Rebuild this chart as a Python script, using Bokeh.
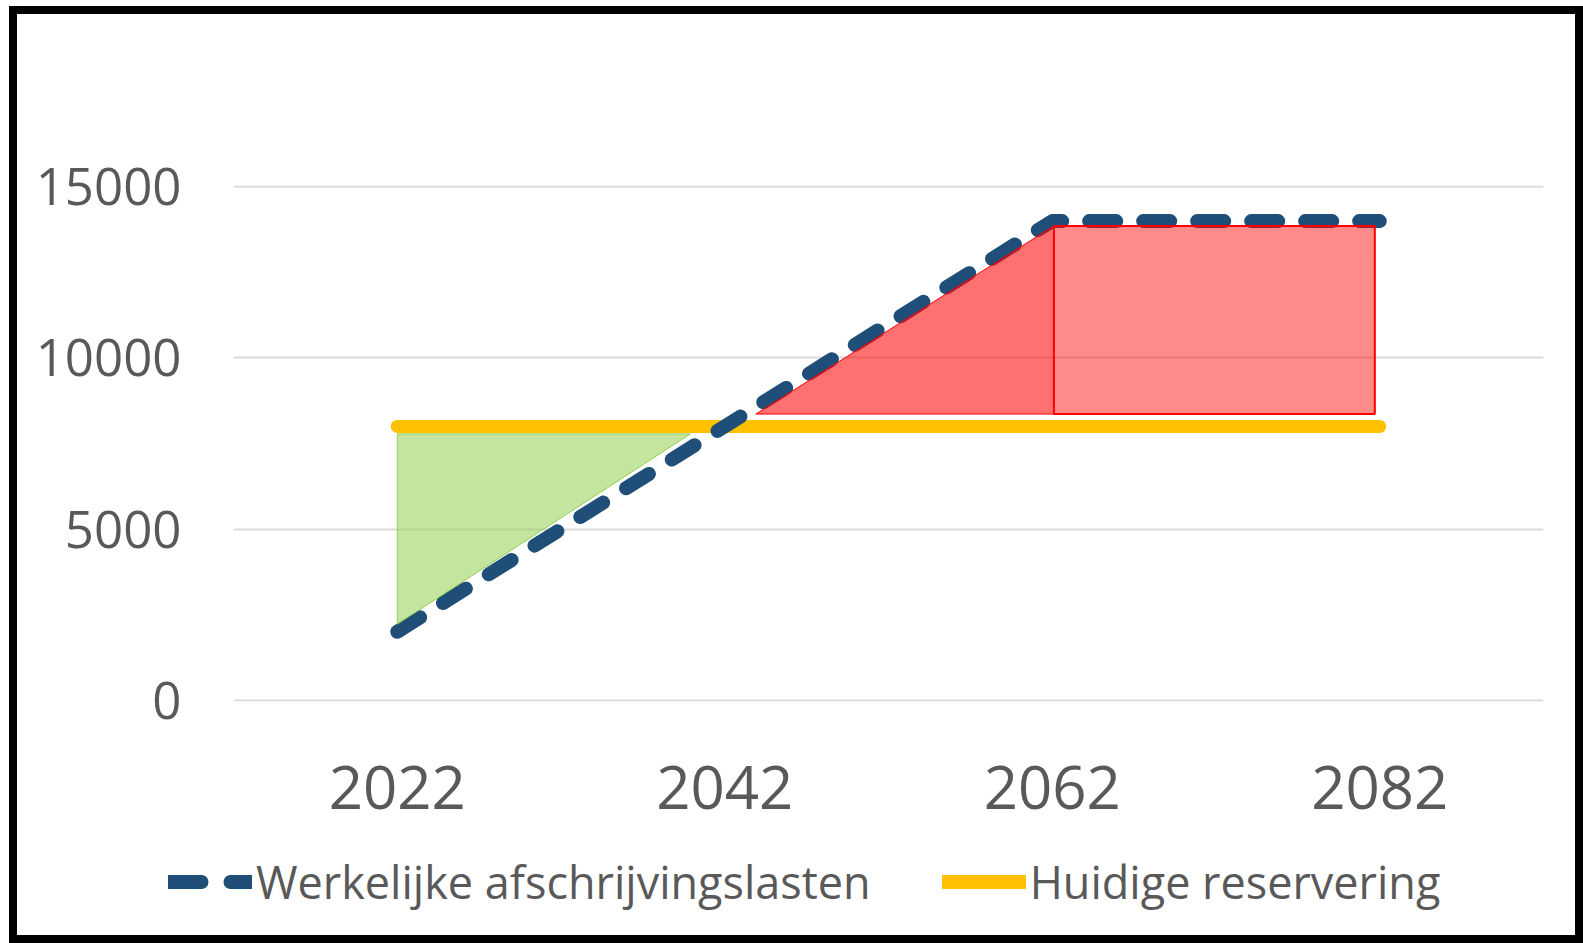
from bokeh.plotting import figure
from bokeh.layouts import column
from bokeh.models import FixedTicker, Legend, LegendItem, Range1d
from bokeh.embed import file_html
from bokeh.resources import INLINE

# ---- data ----
years = [2022, 2042, 2062, 2082]
werkelijke = [2000, 8000, 14000, 14000]
reservering = [8000, 8000, 8000, 8000]
y_ticks = [0, 5000, 10000, 15000]
legend_labels = ["Werkelijke afschrijvingslasten", "Huidige reservering"]

# overlay shapes
green_x = [2022, 2039.9, 2022]
green_y = [7780, 7780, 2220]
red_tri_x = [2043.9, 2062.1, 2062.1]
red_tri_y = [8360, 13860, 8360]
rect_left = [2062.1]
rect_right = [2081.7]
rect_bottom = [8360]
rect_top = [13860]

FONT = "Open Sans"
GREY = "#595959"
BLUE = "#1F4E79"
GOLD = "#FFC000"
W = 1558
HM = 813
HL = 108

p = figure(width=W, height=HM, output_backend="svg", toolbar_location=None,
           x_range=Range1d(2012, 2092), y_range=Range1d(-40, 15040),
           min_border_left=216, min_border_right=32,
           min_border_top=171, min_border_bottom=HM - 687)
p.outline_line_color = None
p.background_fill_color = "white"
p.border_fill_color = "white"

# grid
p.xgrid.grid_line_color = None
p.ygrid.grid_line_color = "#D9D9D9"
p.ygrid.grid_line_width = 2
p.ygrid.ticker = FixedTicker(ticks=y_ticks)

# axes
p.yaxis.ticker = FixedTicker(ticks=y_ticks)
p.yaxis.axis_line_color = None
p.yaxis.major_tick_line_color = None
p.yaxis.minor_tick_line_color = None
p.yaxis.major_tick_in = 0
p.yaxis.major_tick_out = 0
p.yaxis.major_label_standoff = 52
p.yaxis.major_label_text_font = FONT
p.yaxis.major_label_text_font_size = "51px"
p.yaxis.major_label_text_color = GREY

p.xaxis.ticker = FixedTicker(ticks=years)
p.xaxis.axis_line_color = None
p.xaxis.major_tick_line_color = None
p.xaxis.minor_tick_line_color = None
p.xaxis.major_tick_in = 0
p.xaxis.major_tick_out = 0
p.xaxis.major_label_standoff = 64
p.xaxis.major_label_text_font = FONT
p.xaxis.major_label_text_font_size = "60px"
p.xaxis.major_label_text_color = GREY

# series
p.line(years, reservering, line_color=GOLD, line_width=13, line_cap="round")
p.line(years, werkelijke, line_color=BLUE, line_width=14,
       line_dash="27 27", line_cap="round", line_join="round")

# overlay shapes
p.patch(green_x, green_y, fill_color="#92D050", fill_alpha=0.55,
        line_color="#92D050", line_width=1)
p.patch(red_tri_x, red_tri_y, fill_color="#FF0000", fill_alpha=0.56,
        line_color="#FF0000", line_width=1)
p.quad(left=rect_left, right=rect_right, bottom=rect_bottom, top=rect_top,
       fill_color="#FF0000", fill_alpha=0.46, line_color="#FF0000", line_width=2)

# legend strip (own figure, same series; data lies outside its view)
pl = figure(width=W, height=HL, output_backend="svg", toolbar_location=None,
            x_range=Range1d(0, 1), y_range=Range1d(0, 1),
            x_axis_type=None, y_axis_type=None, min_border=0)
pl.outline_line_color = None
pl.background_fill_color = "white"
pl.border_fill_color = "white"
for fig in (p, pl):
    try:
        fig.frame_align = False
    except Exception:
        pass
lw = pl.line(years, werkelijke, line_color=BLUE, line_width=14,
             line_dash="33 29", line_cap="round")
lr = pl.line(years, reservering, line_color=GOLD, line_width=14, line_cap="round")
legend = Legend(items=[LegendItem(label=legend_labels[0], renderers=[lw]),
                       LegendItem(label=legend_labels[1], renderers=[lr])],
                orientation="horizontal", location="left",
                glyph_width=84, glyph_height=40, label_standoff=4, spacing=71,
                padding=0, margin=151,
                label_text_font=FONT, label_text_font_size="45px",
                label_text_color=GREY, border_line_color=None,
                background_fill_alpha=0)
pl.add_layout(legend, "center")

layout = column(p, pl, spacing=0)
layout.margin = (6, 0, 0, 9)
layout.styles = {"border": "8px solid black", "background-color": "white"}

open("out.html", "w").write(file_html(layout, INLINE))
